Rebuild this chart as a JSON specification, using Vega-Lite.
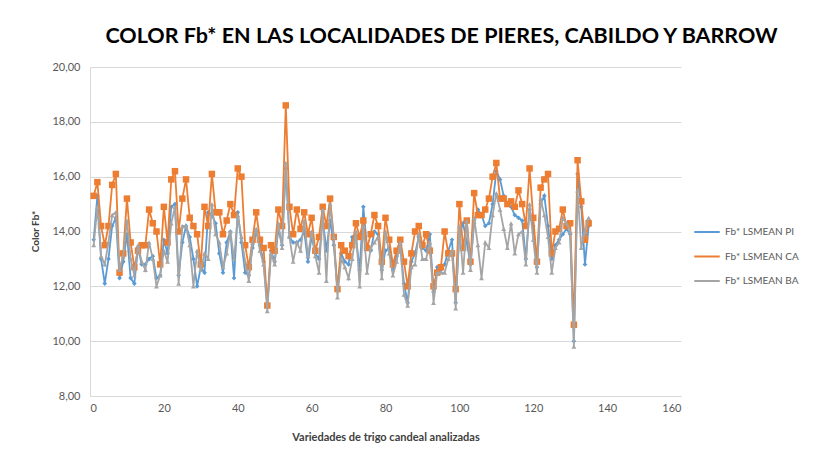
{
  "$schema": "https://vega.github.io/schema/vega-lite/v6.json",
  "width": 591,
  "height": 329,
  "autosize": {"type": "none"},
  "padding": {"left": 90, "top": 67, "right": 146, "bottom": 61},
  "background": "white",
  "title": {
    "text": "COLOR Fb*  EN LAS LOCALIDADES DE PIERES, CABILDO Y BARROW",
    "font": "Lato",
    "fontSize": 21.5,
    "fontWeight": "bold",
    "color": "#000000",
    "anchor": "middle",
    "frame": "group",
    "dx": 56,
    "offset": 14
  },
  "data": {
    "values": [
      {"i":1,"PI":13.7,"CA":15.3,"BA":13.5},
      {"i":2,"PI":15.3,"CA":15.8,"BA":14.9},
      {"i":3,"PI":13.0,"CA":14.2,"BA":13.1},
      {"i":4,"PI":12.1,"CA":13.5,"BA":12.8},
      {"i":5,"PI":13.0,"CA":14.2,"BA":13.6},
      {"i":6,"PI":14.2,"CA":15.7,"BA":14.6},
      {"i":7,"PI":14.5,"CA":16.1,"BA":14.7},
      {"i":8,"PI":12.3,"CA":12.5,"BA":12.6},
      {"i":9,"PI":12.9,"CA":13.2,"BA":13.1},
      {"i":10,"PI":13.9,"CA":15.2,"BA":14.4},
      {"i":11,"PI":12.3,"CA":13.6,"BA":13.0},
      {"i":12,"PI":12.1,"CA":12.7,"BA":12.4},
      {"i":13,"PI":13.4,"CA":13.3,"BA":13.5},
      {"i":14,"PI":12.8,"CA":13.5,"BA":12.9},
      {"i":15,"PI":12.8,"CA":13.5,"BA":12.6},
      {"i":16,"PI":13.0,"CA":14.8,"BA":13.6},
      {"i":17,"PI":13.1,"CA":14.3,"BA":13.0},
      {"i":18,"PI":12.3,"CA":14.0,"BA":12.0},
      {"i":19,"PI":12.4,"CA":12.8,"BA":12.4},
      {"i":20,"PI":13.7,"CA":14.9,"BA":13.3},
      {"i":21,"PI":13.2,"CA":13.6,"BA":12.9},
      {"i":22,"PI":14.9,"CA":15.9,"BA":14.3},
      {"i":23,"PI":15.0,"CA":16.2,"BA":14.9},
      {"i":24,"PI":12.4,"CA":14.0,"BA":12.1},
      {"i":25,"PI":13.6,"CA":15.2,"BA":14.2},
      {"i":26,"PI":14.2,"CA":15.9,"BA":14.2},
      {"i":27,"PI":13.8,"CA":14.5,"BA":13.5},
      {"i":28,"PI":13.0,"CA":14.2,"BA":12.0},
      {"i":29,"PI":12.0,"CA":13.9,"BA":13.3},
      {"i":30,"PI":12.7,"CA":12.8,"BA":12.6},
      {"i":31,"PI":12.5,"CA":14.9,"BA":13.2},
      {"i":32,"PI":14.7,"CA":14.2,"BA":13.0},
      {"i":33,"PI":14.6,"CA":16.1,"BA":15.0},
      {"i":34,"PI":14.3,"CA":14.7,"BA":13.9},
      {"i":35,"PI":13.2,"CA":14.7,"BA":13.6},
      {"i":36,"PI":12.5,"CA":13.9,"BA":12.7},
      {"i":37,"PI":13.6,"CA":14.4,"BA":13.2},
      {"i":38,"PI":14.0,"CA":15.0,"BA":14.0},
      {"i":39,"PI":12.3,"CA":14.6,"BA":13.0},
      {"i":40,"PI":14.7,"CA":16.3,"BA":14.6},
      {"i":41,"PI":13.6,"CA":16.0,"BA":13.8},
      {"i":42,"PI":12.5,"CA":13.5,"BA":12.9},
      {"i":43,"PI":12.4,"CA":12.7,"BA":12.2},
      {"i":44,"PI":13.4,"CA":13.7,"BA":13.6},
      {"i":45,"PI":14.0,"CA":14.7,"BA":14.1},
      {"i":46,"PI":13.5,"CA":13.7,"BA":13.3},
      {"i":47,"PI":12.9,"CA":13.4,"BA":12.8},
      {"i":48,"PI":11.3,"CA":11.3,"BA":11.1},
      {"i":49,"PI":13.3,"CA":13.5,"BA":13.2},
      {"i":50,"PI":12.9,"CA":13.3,"BA":12.8},
      {"i":51,"PI":14.1,"CA":14.8,"BA":14.3},
      {"i":52,"PI":13.5,"CA":14.2,"BA":13.4},
      {"i":53,"PI":16.3,"CA":18.6,"BA":16.5},
      {"i":54,"PI":13.8,"CA":14.9,"BA":13.8},
      {"i":55,"PI":13.6,"CA":13.9,"BA":12.9},
      {"i":56,"PI":13.6,"CA":14.8,"BA":13.6},
      {"i":57,"PI":13.7,"CA":14.1,"BA":13.3},
      {"i":58,"PI":14.0,"CA":14.7,"BA":14.4},
      {"i":59,"PI":12.9,"CA":13.9,"BA":13.1},
      {"i":60,"PI":13.8,"CA":14.5,"BA":14.0},
      {"i":61,"PI":13.2,"CA":13.3,"BA":13.1},
      {"i":62,"PI":13.0,"CA":13.8,"BA":12.5},
      {"i":63,"PI":14.5,"CA":14.9,"BA":14.8},
      {"i":64,"PI":13.3,"CA":14.2,"BA":12.2},
      {"i":65,"PI":14.4,"CA":15.2,"BA":15.0},
      {"i":66,"PI":13.5,"CA":13.8,"BA":13.8},
      {"i":67,"PI":11.9,"CA":11.9,"BA":11.6},
      {"i":68,"PI":13.2,"CA":13.5,"BA":13.0},
      {"i":69,"PI":12.9,"CA":13.3,"BA":12.7},
      {"i":70,"PI":12.8,"CA":13.1,"BA":12.3},
      {"i":71,"PI":13.8,"CA":13.5,"BA":13.0},
      {"i":72,"PI":13.8,"CA":14.3,"BA":14.0},
      {"i":73,"PI":12.6,"CA":13.8,"BA":12.0},
      {"i":74,"PI":14.9,"CA":14.4,"BA":14.2},
      {"i":75,"PI":13.4,"CA":13.4,"BA":12.5},
      {"i":76,"PI":13.3,"CA":13.9,"BA":13.4},
      {"i":77,"PI":14.0,"CA":14.6,"BA":13.6},
      {"i":78,"PI":13.9,"CA":14.2,"BA":13.8},
      {"i":79,"PI":12.6,"CA":12.9,"BA":12.3},
      {"i":80,"PI":13.3,"CA":14.5,"BA":14.0},
      {"i":81,"PI":13.4,"CA":13.7,"BA":13.2},
      {"i":82,"PI":12.6,"CA":12.8,"BA":12.4},
      {"i":83,"PI":13.1,"CA":13.3,"BA":12.9},
      {"i":84,"PI":13.5,"CA":13.7,"BA":13.6},
      {"i":85,"PI":12.1,"CA":12.9,"BA":11.7},
      {"i":86,"PI":11.4,"CA":12.0,"BA":11.3},
      {"i":87,"PI":12.9,"CA":13.2,"BA":12.7},
      {"i":88,"PI":13.2,"CA":14.0,"BA":12.8},
      {"i":89,"PI":13.8,"CA":14.2,"BA":13.9},
      {"i":90,"PI":13.4,"CA":13.5,"BA":13.0},
      {"i":91,"PI":13.3,"CA":13.9,"BA":13.0},
      {"i":92,"PI":13.9,"CA":13.3,"BA":13.6},
      {"i":93,"PI":11.8,"CA":12.0,"BA":11.4},
      {"i":94,"PI":12.7,"CA":12.5,"BA":12.5},
      {"i":95,"PI":12.6,"CA":12.7,"BA":12.5},
      {"i":96,"PI":12.8,"CA":14.0,"BA":12.5},
      {"i":97,"PI":13.3,"CA":13.2,"BA":13.0},
      {"i":98,"PI":13.7,"CA":13.2,"BA":13.3},
      {"i":99,"PI":11.4,"CA":11.9,"BA":11.2},
      {"i":100,"PI":13.9,"CA":15.0,"BA":14.2},
      {"i":101,"PI":14.3,"CA":13.4,"BA":12.5},
      {"i":102,"PI":13.6,"CA":14.4,"BA":14.4},
      {"i":103,"PI":12.8,"CA":12.9,"BA":12.6},
      {"i":104,"PI":14.3,"CA":15.4,"BA":14.5},
      {"i":105,"PI":14.8,"CA":14.6,"BA":13.5},
      {"i":106,"PI":14.6,"CA":14.6,"BA":12.3},
      {"i":107,"PI":14.2,"CA":14.8,"BA":13.6},
      {"i":108,"PI":14.3,"CA":15.2,"BA":13.4},
      {"i":109,"PI":15.0,"CA":16.0,"BA":14.6},
      {"i":110,"PI":16.2,"CA":16.5,"BA":15.4},
      {"i":111,"PI":15.9,"CA":15.2,"BA":14.8},
      {"i":112,"PI":15.3,"CA":15.2,"BA":14.1},
      {"i":113,"PI":15.0,"CA":15.0,"BA":13.4},
      {"i":114,"PI":14.9,"CA":15.1,"BA":14.3},
      {"i":115,"PI":14.6,"CA":14.9,"BA":13.2},
      {"i":116,"PI":14.5,"CA":15.5,"BA":13.9},
      {"i":117,"PI":14.4,"CA":15.0,"BA":14.0},
      {"i":118,"PI":13.0,"CA":14.2,"BA":12.8},
      {"i":119,"PI":14.8,"CA":16.3,"BA":15.0},
      {"i":120,"PI":14.2,"CA":14.5,"BA":13.7},
      {"i":121,"PI":12.7,"CA":12.9,"BA":12.5},
      {"i":122,"PI":15.0,"CA":15.6,"BA":15.2},
      {"i":123,"PI":15.3,"CA":15.9,"BA":14.6},
      {"i":124,"PI":14.2,"CA":16.1,"BA":13.8},
      {"i":125,"PI":13.0,"CA":13.2,"BA":12.5},
      {"i":126,"PI":13.5,"CA":14.0,"BA":13.4},
      {"i":127,"PI":13.7,"CA":14.1,"BA":13.6},
      {"i":128,"PI":13.9,"CA":14.8,"BA":14.5},
      {"i":129,"PI":14.1,"CA":14.2,"BA":14.3},
      {"i":130,"PI":13.9,"CA":14.3,"BA":14.0},
      {"i":131,"PI":10.0,"CA":10.6,"BA":9.8},
      {"i":132,"PI":16.1,"CA":16.6,"BA":15.5},
      {"i":133,"PI":14.9,"CA":15.1,"BA":13.4},
      {"i":134,"PI":12.8,"CA":13.7,"BA":14.0},
      {"i":135,"PI":14.2,"CA":14.3,"BA":14.5}
    ]
  },
  "transform": [{"fold": ["PI", "CA", "BA"], "as": ["k", "v"]}],
  "encoding": {
    "x": {
      "field": "i",
      "type": "quantitative",
      "scale": {"domain": [0, 160], "nice": false, "zero": false},
      "axis": {
        "values": [0, 20, 40, 60, 80, 100, 120, 140, 160],
        "grid": false,
        "ticks": false,
        "domainColor": "#D9D9D9",
        "labelPadding": 6,
        "labelFont": "Lato",
        "labelFontSize": 11,
        "labelColor": "#595959",
        "title": "Variedades de trigo candeal analizadas",
        "titleFont": "Lato",
        "titleFontSize": 11,
        "titleFontWeight": "bold",
        "titleColor": "#404040",
        "titleY": 41,
        "titleBaseline": "middle"
      }
    },
    "y": {
      "field": "v",
      "type": "quantitative",
      "scale": {"domain": [8, 20], "nice": false, "zero": false},
      "axis": {
        "values": [8, 10, 12, 14, 16, 18, 20],
        "labelExpr": "replace(format(datum.value, '.2f'), '.', ',')",
        "grid": true,
        "gridColor": "#D9D9D9",
        "ticks": false,
        "domainColor": "#D9D9D9",
        "labelPadding": 10,
        "labelFont": "Lato",
        "labelFontSize": 11,
        "labelColor": "#595959",
        "title": "Color Fb*",
        "titleFont": "Lato",
        "titleFontSize": 10,
        "titleFontWeight": "bold",
        "titleColor": "#404040",
        "titleX": -55,
        "titleY": 164,
        "titleAlign": "center",
        "titleBaseline": "middle",
        "titleAngle": -90
      }
    }
  },
  "layer": [
    {
      "transform": [{"filter": "datum.k === 'PI'"}],
      "layer": [
        {
          "mark": {"type": "line", "strokeWidth": 1.8},
          "encoding": {
            "color": {
              "datum": "Fb* LSMEAN PI",
              "type": "nominal",
              "scale": {
                "domain": ["Fb* LSMEAN PI", "Fb* LSMEAN CA", "Fb* LSMEAN BA"],
                "range": ["#5B9BD5", "#ED7D31", "#A5A5A5"]
              },
              "legend": {"title": null}
            }
          }
        },
        {
          "mark": {"type": "point", "shape": "diamond", "filled": true, "size": 22, "opacity": 1},
          "encoding": {"color": {"datum": "Fb* LSMEAN PI", "type": "nominal"}}
        }
      ]
    },
    {
      "transform": [{"filter": "datum.k === 'CA'"}],
      "layer": [
        {
          "mark": {"type": "line", "strokeWidth": 1.8},
          "encoding": {"color": {"datum": "Fb* LSMEAN CA", "type": "nominal"}}
        },
        {
          "mark": {"type": "point", "shape": "square", "filled": true, "size": 42, "opacity": 1},
          "encoding": {"color": {"datum": "Fb* LSMEAN CA", "type": "nominal"}}
        }
      ]
    },
    {
      "transform": [{"filter": "datum.k === 'BA'"}],
      "layer": [
        {
          "mark": {"type": "line", "strokeWidth": 1.8},
          "encoding": {"color": {"datum": "Fb* LSMEAN BA", "type": "nominal"}}
        },
        {
          "mark": {"type": "point", "shape": "triangle-up", "filled": true, "size": 24, "opacity": 1},
          "encoding": {"color": {"datum": "Fb* LSMEAN BA", "type": "nominal"}}
        }
      ]
    }
  ],
  "config": {
    "view": {"stroke": null},
    "legend": {
      "orient": "none",
      "legendX": 603,
      "legendY": 151,
      "symbolType": "stroke",
      "symbolStrokeWidth": 2,
      "symbolSize": 650,
      "rowPadding": 5.5,
      "labelFont": "Lato",
      "labelFontSize": 10,
      "labelColor": "#595959",
      "labelOffset": 4,
      "labelLimit": 0
    }
  }
}
